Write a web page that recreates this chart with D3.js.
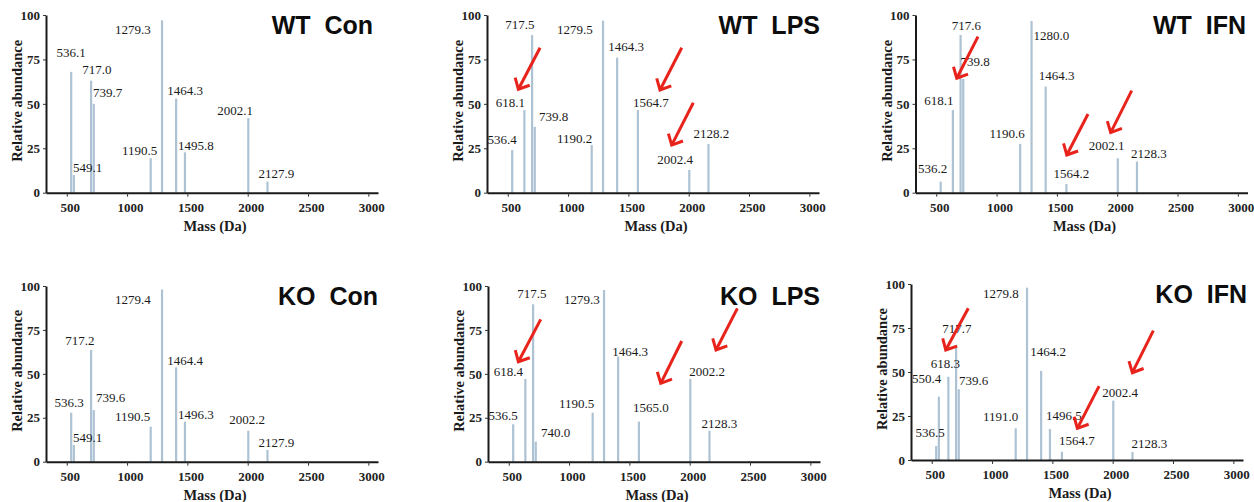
<!DOCTYPE html>
<html>
<head>
<meta charset="utf-8">
<script src="https://cdn.jsdelivr.net/npm/d3@7"></script>
<style>
body { margin: 0; background: #fff; }
svg { display: block; }
</style>
</head>
<body>
<svg id="chart" width="1254" height="502"></svg>
<script>
// axis ticks
var xTicks = [500, 1000, 1500, 2000, 2500, 3000]
var yTicks = [0, 25, 50, 75, 100]
var massDomain = [328, 3080]

// WT Con
var wtConMass = ['536.1', '549.1', '717.0', '739.7', '1190.5', '1279.3', '1464.3', '1495.8', '2002.1', '2127.9']
var wtConPos = [536, 558, 701, 723, 1195, 1289, 1406, 1479, 2004, 2163]
var wtConAbund = [68, 10, 63, 50, 19.4, 97, 53, 22.7, 42, 6.2]
var wtConArrows = []

// WT LPS
var wtLpsMass = ['536.4', '618.1', '717.5', '739.8', '1190.2', '1279.5', '1464.3', '1564.7', '2002.4', '2128.2']
var wtLpsPos = [536, 637, 701, 723, 1195, 1289, 1406, 1578, 2004, 2163]
var wtLpsAbund = [24, 46.5, 88.7, 37.1, 26.8, 96.8, 76, 46.5, 12.8, 27.4]
var wtLpsArrows = [[768, 81.6, 588, 58.2], [1942, 81.6, 1762, 57.8], [2038, 50.6, 1859, 26.8]]

// WT IFN
var wtIfnMass = ['536.2', '618.1', '717.6', '739.8', '1190.6', '1280.0', '1464.3', '1564.2', '2002.1', '2128.3']
var wtIfnPos = [536, 637, 701, 723, 1195, 1289, 1406, 1578, 2004, 2163]
var wtIfnAbund = [6.2, 46.5, 88.7, 64, 27.4, 96.6, 59.7, 4.9, 19.4, 17.5]
var wtIfnArrows = [[846, 87.8, 670, 64.4], [1758, 44.3, 1582, 21.2], [2120, 57.4, 1946, 33.8]]

// KO Con
var koConMass = ['536.3', '549.1', '717.2', '739.6', '1190.5', '1279.4', '1464.4', '1496.3', '2002.2', '2127.9']
var koConPos = [536, 558, 701, 723, 1195, 1289, 1406, 1479, 2004, 2163]
var koConAbund = [27.9, 9.5, 63.6, 29.4, 19.9, 98, 53.7, 22.8, 17.6, 6.7]
var koConArrows = []

// KO LPS
var koLpsMass = ['536.5', '618.4', '717.5', '740.0', '1190.5', '1279.3', '1464.3', '1565.0', '2002.2', '2128.3']
var koLpsPos = [536, 637, 701, 723, 1195, 1289, 1406, 1578, 2004, 2163]
var koLpsAbund = [21.3, 47.1, 89.6, 11.4, 27.9, 97.7, 59.8, 22.8, 47.1, 17.6]
var koLpsArrows = [[765, 81, 580, 56.9], [1934, 68.7, 1760, 44.6], [2395, 87.3, 2218, 63.6]]

// KO IFN
var koIfnMass = ['536.5', '550.4', '618.3', '717.7', '739.6', '1191.0', '1279.8', '1464.2', '1496.5', '1564.7', '2002.4', '2128.3']
var koIfnPos = [536, 558, 637, 701, 723, 1195, 1289, 1406, 1479, 1578, 2004, 2163]
var koIfnAbund = [8, 36, 47.3, 65.3, 40.2, 18, 97.9, 50.6, 17.6, 4.7, 33.7, 4.5]
var koIfnArrows = [[803, 86.2, 616, 62.5], [1887, 42, 1707, 18], [2337, 73.5, 2163, 49.6]]

// label nudges (px from bar top), kept apart from the data
var wtConLbl = [[0,-19],[14,-7],[6,-11],[14,-11],[-11,-8],[-29,9],[9,-8],[11,-7],[-13,-8],[9,-8]]
var wtLpsLbl = [[-10,-11],[-14,-8],[-12,-11],[19,-10],[-17,-7],[-28,9],[9,-11],[13,-8],[-14,-11],[3,-11]]
var wtIfnLbl = [[-8,-13],[-14,-10],[6,-10],[12,-18],[-13,-11],[20,14],[11,-11],[5,-11],[-11,-13],[12,-8]]
var koConLbl = [[-2,-10],[14,-8],[-11,-10],[17,-13],[-18,-10],[-29,10],[9,-7],[11,-7],[-1,-11],[9,-7]]
var koLpsLbl = [[-10,-9],[-17,-7],[-1,-11],[20,-9],[-16,-9],[-22,9],[12,-5],[12,-14],[17,-7],[10,-7]]
var koIfnLbl = [[-6,-13],[-12,-18],[-3,-13],[1,-17],[15,-9],[-15,-12],[-26,6],[7,-19],[14,-14],[15,-11],[7,-8],[17,-9]]

var panels = [
    {title: 'WT  Con', mass: wtConMass, pos: wtConPos, abund: wtConAbund, arrows: wtConArrows, lbl: wtConLbl, axisX: 46, topY: 15, baseY: 192.7, titleRight: 373},
    {title: 'WT  LPS', mass: wtLpsMass, pos: wtLpsPos, abund: wtLpsAbund, arrows: wtLpsArrows, lbl: wtLpsLbl, axisX: 487, topY: 15, baseY: 192.7, titleRight: 820},
    {title: 'WT  IFN', mass: wtIfnMass, pos: wtIfnPos, abund: wtIfnAbund, arrows: wtIfnArrows, lbl: wtIfnLbl, axisX: 915.5, topY: 15, baseY: 192.7, titleRight: 1246},
    {title: 'KO  Con', mass: koConMass, pos: koConPos, abund: koConAbund, arrows: koConArrows, lbl: koConLbl, axisX: 46, topY: 286, baseY: 461.7, titleRight: 378},
    {title: 'KO  LPS', mass: koLpsMass, pos: koLpsPos, abund: koLpsAbund, arrows: koLpsArrows, lbl: koLpsLbl, axisX: 488, topY: 286, baseY: 461.7, titleRight: 820},
    {title: 'KO  IFN', mass: koIfnMass, pos: koIfnPos, abund: koIfnAbund, arrows: koIfnArrows, lbl: koIfnLbl, axisX: 911, topY: 284, baseY: 460, titleRight: 1247}
]

var SERIF = '"Liberation Serif", "Times New Roman", serif'
var SANS = '"Liberation Sans", Arial, sans-serif'
var barColor = '#adc2d3'
var arrowColor = '#e8231b'

drawPanel = function(svg, p){
    var x = d3.scaleLinear().domain(massDomain).range([p.axisX, p.axisX + 332])
    var y = d3.scaleLinear().domain([0, 100]).range([p.baseY, p.topY])
    var g = svg.append('g')

    g.selectAll('rect.peak').data(p.abund).enter().append('rect')
        .attr('class', 'peak')
        .attr('x', function(d, i){ return x(p.pos[i]) - 1 })
        .attr('y', function(d){ return y(d) })
        .attr('width', 2.2)
        .attr('height', function(d){ return y(0) - y(d) })
        .attr('fill', barColor)

    g.selectAll('text.peak').data(p.mass).enter().append('text')
        .attr('class', 'peak')
        .attr('x', function(d, i){ return x(p.pos[i]) + p.lbl[i][0] })
        .attr('y', function(d, i){ return y(p.abund[i]) + p.lbl[i][1] })
        .attr('dy', '0.35em')
        .attr('text-anchor', 'middle')
        .attr('font-family', SERIF)
        .attr('font-size', '13px')
        .attr('fill', '#1a1a1a')
        .text(function(d){ return d })

    var xAxis = g.append('g')
        .attr('transform', 'translate(0,' + p.baseY + ')')
        .call(d3.axisBottom(x).tickValues(xTicks).tickFormat(d3.format('d')).tickSizeInner(4).tickSizeOuter(0).tickPadding(6))
    var yAxis = g.append('g')
        .attr('transform', 'translate(' + p.axisX + ',0)')
        .call(d3.axisLeft(y).tickValues(yTicks).tickFormat(d3.format('d')).tickSizeInner(3).tickSizeOuter(0).tickPadding(3))
    ;[xAxis, yAxis].forEach(function(a){
        a.attr('font-family', null).attr('font-size', null)
        a.select('.domain').attr('stroke', '#1a1a1a').attr('stroke-width', 2)
        a.selectAll('.tick line').attr('stroke', '#333').attr('stroke-width', 1)
        a.selectAll('.tick text')
            .attr('font-family', SERIF)
            .attr('font-size', '13px')
            .attr('font-weight', 'bold')
            .attr('fill', '#222')
    })
    xAxis.selectAll('.tick text').attr('dx', 3)

    g.append('text')
        .attr('x', p.axisX + 169)
        .attr('y', p.baseY + 38)
        .attr('text-anchor', 'middle')
        .attr('font-family', SERIF)
        .attr('font-size', '14.5px')
        .attr('font-weight', 'bold')
        .attr('fill', '#1a1a1a')
        .text('Mass (Da)')

    g.append('text')
        .attr('transform', 'translate(' + (p.axisX - 29) + ',' + ((p.topY + p.baseY) / 2 - 3) + ') rotate(-90)')
        .attr('dy', '0.35em')
        .attr('text-anchor', 'middle')
        .attr('font-family', SERIF)
        .attr('font-size', '14.5px')
        .attr('font-weight', 'bold')
        .attr('fill', '#1a1a1a')
        .text('Relative abundance')

    g.append('text')
        .attr('x', p.titleRight)
        .attr('y', p.topY + 19)
        .attr('text-anchor', 'end')
        .attr('font-family', SANS)
        .attr('font-size', '25px')
        .attr('font-weight', 'bold')
        .attr('fill', '#0d0d0d')
        .style('white-space', 'pre')
        .text(p.title)

    p.arrows.forEach(function(a){
        var x1 = x(a[0]), y1 = y(a[1]), x2 = x(a[2]), y2 = y(a[3])
        var ang = Math.atan2(y1 - y2, x1 - x2)
        var len = 12, spread = 0.75
        var h1 = [x2 + len * Math.cos(ang - spread), y2 + len * Math.sin(ang - spread)]
        var h2 = [x2 + len * Math.cos(ang + spread), y2 + len * Math.sin(ang + spread)]
        g.append('line')
            .attr('x1', x1).attr('y1', y1).attr('x2', x2).attr('y2', y2)
            .attr('stroke', arrowColor).attr('stroke-width', 3)
        g.append('path')
            .attr('d', 'M' + h1 + 'L' + [x2, y2] + 'L' + h2)
            .attr('fill', 'none')
            .attr('stroke', arrowColor).attr('stroke-width', 3)
            .attr('stroke-linejoin', 'miter')
    })
}

var svg = d3.select('#chart')
panels.forEach(function(p){ drawPanel(svg, p) })
</script>
</body>
</html>
